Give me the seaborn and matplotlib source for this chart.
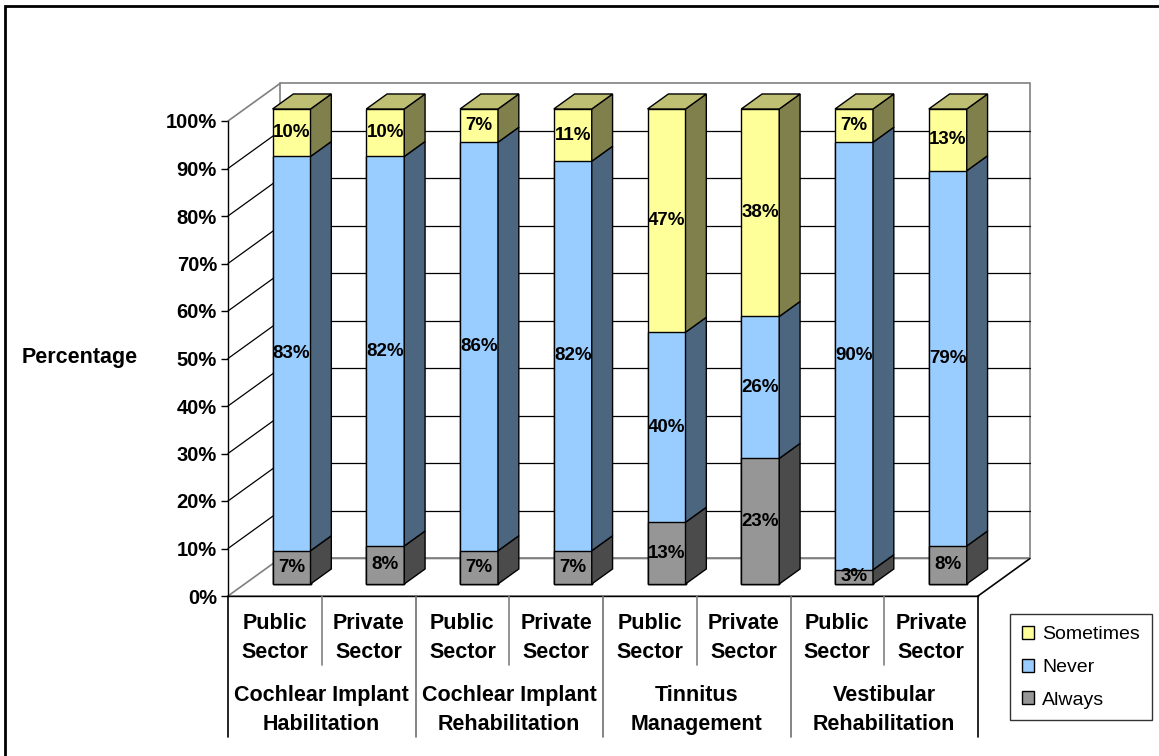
import numpy as np
import pandas as pd
import matplotlib
matplotlib.use("Agg")
import matplotlib.pyplot as plt
import matplotlib.transforms as mtransforms
from matplotlib.patches import Polygon, Rectangle, Patch
import seaborn as sns

# ---- data -------------------------------------------------------------
groups = ["Cochlear Implant\nHabilitation", "Cochlear Implant\nRehabilitation",
          "Tinnitus\nManagement", "Vestibular\nRehabilitation"]
sectors = ["Public\nSector", "Private\nSector"]
always = [7, 8, 7, 7, 13, 23, 3, 8]
never = [83, 82, 86, 82, 40, 26, 90, 79]
sometimes = [10, 10, 7, 11, 47, 38, 7, 13]
y_ticks = list(range(0, 101, 10))

# ---- styling ----------------------------------------------------------
sns.set_theme(style="white")
plt.rcParams["font.family"] = ["Liberation Sans", "DejaVu Sans"]
for key in ["text.color", "axes.labelcolor", "xtick.color", "ytick.color"]:
    plt.rcParams[key] = "black"

colors = {
    "Sometimes": ("#FFFF99", "#80804C", "#BFBF73"),
    "Never": ("#99CCFF", "#4C6680", "#739ABF"),
    "Always": ("#969696", "#4B4B4B", "#717171"),
}

W, H = 1159, 756
fig = plt.figure(figsize=(W / 100, H / 100), dpi=100)
fig.patch.set_facecolor("white")

# front plane of the plot: x from 228 to 978 px, y from 596 (0%) to 121 (100%)
ax = fig.add_axes([228 / W, (H - 596) / H, 750 / W, 475 / H])
ax.set_facecolor("none")

n = len(always)
keys = [f"c{i}" for i in range(n)]
raw = np.array([always, never, sometimes], dtype=float)
share = raw / raw.sum(axis=0) * 100  # 100% stacked columns
cum_always = share[0]
cum_never = share[0] + share[1]
cum_top = share[0] + share[1] + share[2]

# depth of the 3-D box in data units and the slab occupied by the columns
DX, DY = 0.555, 7.9
d0, d1 = 0.32, 0.72
bar_w = 0.405
shift = mtransforms.Affine2D().translate(d0 * DX, d0 * DY) + ax.transData
bdx, bdy = (d1 - d0) * DX, (d1 - d0) * DY

x0, x1 = -0.5, n - 0.5
grid_c = "#000000"
wall_c = "#808080"

# back wall, floor and side wall
ax.add_patch(Rectangle((x0 + DX, DY), x1 - x0, 100, facecolor="white",
                       edgecolor=wall_c, lw=1.2, zorder=0.5, clip_on=False))
ax.add_patch(Polygon([(x0, 0), (x1, 0), (x1 + DX, DY), (x0 + DX, DY)],
                     closed=True, facecolor="white", edgecolor=wall_c, lw=1.2,
                     zorder=0.55, clip_on=False))
ax.plot([x1, x1 + DX], [0, DY], color="black", lw=1, zorder=0.6, clip_on=False)
ax.plot([x0, x0 + DX], [100, 100 + DY], color=wall_c, lw=1.2, zorder=0.6, clip_on=False)
for v in y_ticks[1:-1]:
    ax.plot([x0 + DX, x1 + DX], [v + DY, v + DY], color=grid_c, lw=0.9,
            zorder=0.6, clip_on=False)
    ax.plot([x0, x0 + DX], [v, v + DY], color=grid_c, lw=0.9, zorder=0.6,
            clip_on=False)

# front faces of the stacked columns (each layer overlays the one below)
layers = [("Sometimes", cum_top), ("Never", cum_never), ("Always", cum_always)]
for k, (name, vals) in enumerate(layers):
    before = len(ax.patches)
    df = pd.DataFrame({"key": keys, "val": vals})
    sns.barplot(data=df, x="key", y="val", order=keys, color=colors[name][0],
                saturation=1, width=bar_w, errorbar=None, edgecolor="black",
                linewidth=1, ax=ax)
    for p in ax.patches[before:]:
        p.set_transform(shift)
        p.set_clip_on(False)
        p.set_zorder(3 + 0.1 * k)

# side and top faces, plus value labels
bottoms = np.vstack([np.zeros(n), cum_always, cum_never])
tops = np.vstack([cum_always, cum_never, cum_top])
names = ["Always", "Never", "Sometimes"]
for i in range(n):
    xl, xr = i - bar_w / 2, i + bar_w / 2
    for s in range(3):
        b, t = bottoms[s, i], tops[s, i]
        side = Polygon([(xr, b), (xr + bdx, b + bdy), (xr + bdx, t + bdy), (xr, t)],
                       closed=True, facecolor=colors[names[s]][1],
                       edgecolor="black", lw=1, zorder=3.5, clip_on=False,
                       transform=shift)
        ax.add_patch(side)
        ax.text(i, (b + t) / 2, f"{int(raw[s, i])}%", transform=shift,
                ha="center", va="center", fontsize=13.5, fontweight="bold",
                color="black", zorder=5, clip_on=False)
    t = cum_top[i]
    top = Polygon([(xl, t), (xr, t), (xr + bdx, t + bdy), (xl + bdx, t + bdy)],
                  closed=True, facecolor=colors["Sometimes"][2],
                  edgecolor="black", lw=1, zorder=3.5, clip_on=False,
                  transform=shift)
    ax.add_patch(top)

# axes
ax.set_xlim(x0, x1)
ax.set_ylim(0, 100)
ax.set_yticks(y_ticks)
ax.set_yticklabels([f"{v}%" for v in y_ticks], fontsize=14.5, fontweight="bold")
ax.tick_params(axis="y", direction="out", length=5, width=1, color="black",
               labelcolor="black", pad=3, left=True)
ax.set_xticks([])
ax.set_xlabel("")
for side_name in ["top", "right"]:
    ax.spines[side_name].set_visible(False)
for side_name in ["left", "bottom"]:
    ax.spines[side_name].set_color("black")
    ax.spines[side_name].set_linewidth(1)
    ax.spines[side_name].set_zorder(0.7)

ax.set_ylabel("Percentage", rotation=0, fontsize=15.5, fontweight="bold",
              ha="center", va="center", color="black")
ax.yaxis.set_label_coords((80 - 228) / 750, (596 - 358) / 475)

# two-level category axis
px = 4.75  # pixels per percent
def ypix(py):
    return (596 - py) / px

for i in range(n):
    ax.text(i, ypix(638), sectors[i % 2], ha="center", va="center",
            fontsize=15.5, fontweight="bold", linespacing=1.45, clip_on=False)
for g in range(len(groups)):
    ax.text(2 * g + 0.5, ypix(710), groups[g], ha="center", va="center",
            fontsize=15.5, fontweight="bold", linespacing=1.45, clip_on=False)
for g in range(len(groups) + 1):
    xb = -0.5 + 2 * g
    c = "black" if g in (0, len(groups)) else "#707070"
    ax.plot([xb, xb], [0, ypix(737)], color=c, lw=1.2, clip_on=False)
for g in range(len(groups)):
    xb = 0.5 + 2 * g
    ax.plot([xb, xb], [0, ypix(665)], color="#808080", lw=1.2, clip_on=False)

# legend
handles = [Patch(facecolor=colors[nm][0], edgecolor="black", lw=1, label=nm)
           for nm in ["Sometimes", "Never", "Always"]]
leg = fig.legend(handles=handles, loc="upper left",
                 bbox_to_anchor=(1010 / W, 1 - 614 / H), frameon=True,
                 fancybox=False, shadow=False, fontsize=14,
                 handlelength=0.65, handleheight=0.65, handletextpad=0.4,
                 labelspacing=0.8, borderpad=0.6, borderaxespad=0)
leg.get_frame().set_edgecolor("black")
leg.get_frame().set_linewidth(1)
for txt in leg.get_texts():
    txt.set_color("black")

# chart border
fig.add_artist(Rectangle((5 / W, -0.05), 1.2, 1 - 6 / H + 0.05,
                         transform=fig.transFigure, fill=False,
                         edgecolor="black", lw=2))

fig.savefig("out.png", dpi=100, facecolor="white")
